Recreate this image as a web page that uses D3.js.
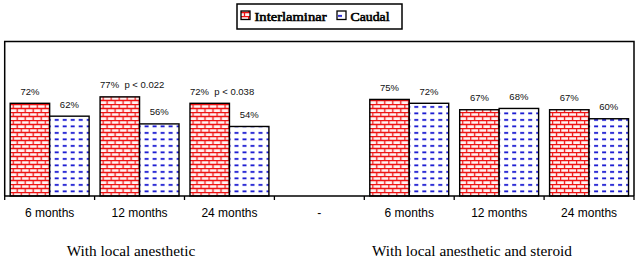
<!DOCTYPE html>
<html><head><meta charset="utf-8">
<script src="https://cdn.jsdelivr.net/npm/d3@7"></script>
<style>html,body{margin:0;padding:0;background:#fff;}svg{display:block;}</style>
</head><body>
<script>
const categories = ["6 months","12 months","24 months","-","6 months","12 months","24 months"];
const seriesNames = ["Interlaminar","Caudal"];
const interlaminar = [72,77,72,null,75,67,67];
const caudal = [62,56,54,null,72,68,60];
const interLabels = ["72%","77%  p < 0.022","72%  p < 0.038",null,"75%","67%","67%"];
const caudalLabels = ["62%","56%","54%",null,"72%","68%","60%"];
const groupLabels = ["With local anesthetic","With local anesthetic and steroid"];
const yMax = 120;

const W=639,H=259;
const svg=d3.select("body").append("svg").attr("width",W).attr("height",H);
const defs=svg.append("defs");
// brick pattern
const pb=defs.append("pattern").attr("id","brick").attr("patternUnits","userSpaceOnUse")
  .attr("width",8).attr("height",8);
pb.append("rect").attr("width",8).attr("height",8).attr("fill","#fff2f2");
pb.append("path").attr("d","M0,0.5H8M0,4.5H8M0.5,0.5V4.5M4.5,4.5V8.5")
  .attr("stroke","#ee1111").attr("stroke-width",1.3).attr("fill","none");
// dash pattern
const pd=defs.append("pattern").attr("id","dash").attr("patternUnits","userSpaceOnUse")
  .attr("width",8).attr("height",6.5);
pd.append("rect").attr("width",8).attr("height",6.5).attr("fill","#fff");
pd.append("rect").attr("x",2).attr("y",2).attr("width",4).attr("height",1.8).attr("fill","#1515d0");

const pLeft=4.7,pRight=634,pTop=41.5,pBottom=196;
const x0=d3.scaleBand().domain(d3.range(categories.length)).range([pLeft,pRight]).paddingInner(0).paddingOuter(0);
const x1=d3.scaleBand().domain(seriesNames).range([0,x0.bandwidth()]).paddingInner(0).paddingOuter(0.139);
const y=d3.scaleLinear().domain([0,yMax]).range([pBottom,pTop]);

// frame
svg.append("path").attr("d",`M${pLeft},${pBottom}V${pTop}H${pRight}V${pBottom}`)
  .attr("fill","none").attr("stroke","#000").attr("stroke-width",1.5);

const fills={Interlaminar:"url(#brick)",Caudal:"url(#dash)"};
const data=categories.map((c,i)=>({i,c,vals:[
  {s:"Interlaminar",v:interlaminar[i],lab:interLabels[i]},
  {s:"Caudal",v:caudal[i],lab:caudalLabels[i]}]}));

const g=svg.selectAll("g.cat").data(data).join("g").attr("class","cat")
  .attr("transform",d=>`translate(${x0(d.i)},0)`);
g.selectAll("rect").data(d=>d.vals.filter(v=>v.v!=null)).join("rect")
  .attr("x",d=>x1(d.s)).attr("width",x1.bandwidth())
  .attr("y",d=>y(d.v)).attr("height",d=>y(0)-y(d.v))
  .attr("fill",d=>fills[d.s]).attr("stroke","#000").attr("stroke-width",1.4);
g.selectAll("text.val").data(d=>d.vals.filter(v=>v.v!=null)).join("text").attr("class","val")
  .attr("x",d=>d.lab.length>4?x1(d.s):x1(d.s)+x1.bandwidth()/2)
  .attr("text-anchor",d=>d.lab.length>4?"start":"middle")
  .attr("y",d=>y(d.v)-8.5)
  .attr("font-family","Liberation Sans, Arial, sans-serif").attr("font-size",9.5).attr("fill","#111")
  .style("white-space","pre").text(d=>d.lab);

// x axis
const xAxis=d3.axisBottom(x0).tickSize(0).tickFormat(i=>categories[i]);
const ax=svg.append("g").attr("transform",`translate(0,${pBottom})`).call(xAxis);
ax.select(".domain").remove();
ax.selectAll("text").attr("font-family","Liberation Sans, Arial, sans-serif").attr("font-size",12)
  .attr("fill","#000").attr("dy",0).attr("y",20.5);
svg.append("line").attr("x1",pLeft).attr("x2",pRight).attr("y1",pBottom).attr("y2",pBottom)
  .attr("stroke","#000").attr("stroke-width",1.5);
const tickX=d3.range(categories.length+1).map(i=>i<categories.length?x0(i):pRight);
svg.selectAll("line.tk").data(tickX).join("line").attr("class","tk")
  .attr("x1",d=>d).attr("x2",d=>d).attr("y1",pBottom).attr("y2",pBottom+4)
  .attr("stroke","#000").attr("stroke-width",1.3);

// group labels
const groupCenters=[131,472];
svg.selectAll("text.grp").data(groupLabels).join("text").attr("class","grp")
  .attr("x",(d,i)=>groupCenters[i]).attr("y",255.5).attr("text-anchor","middle")
  .attr("font-family","'Liberation Serif', 'Times New Roman', serif").attr("font-size",15.3).attr("fill","#000")
  .text(d=>d);

// legend
const lg=svg.append("g");
lg.append("rect").attr("x",237).attr("y",4).attr("width",165).attr("height",25)
  .attr("fill","#fff").attr("stroke","#000").attr("stroke-width",1.5);
const legX=[241,337];
seriesNames.forEach((s,i)=>{
  lg.append("rect").attr("x",legX[i]).attr("y",11).attr("width",9).attr("height",8.5)
    .attr("fill",fills[s]).attr("stroke","#000").attr("stroke-width",1.3);
  lg.append("text").attr("x",legX[i]+13.5).attr("y",20.5)
    .attr("font-family","'Liberation Serif', 'Times New Roman', serif").attr("font-weight","normal")
    .attr("font-size",13).attr("fill","#000").attr("stroke","#000").attr("stroke-width",0.6)
    .attr("textLength",i===0?72:39).attr("lengthAdjust","spacingAndGlyphs").text(s);
});
</script>
</body></html>
